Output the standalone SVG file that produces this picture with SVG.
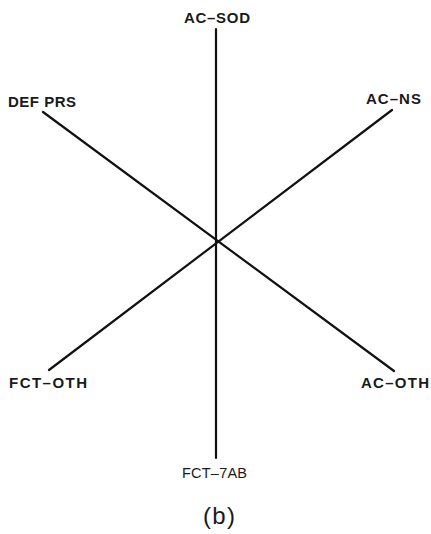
<svg xmlns="http://www.w3.org/2000/svg" width="431" height="534" viewBox="0 0 431 534">
<style>
.ln{stroke:#111;stroke-width:2.2;fill:none;stroke-linecap:round}
.lb{font-family:"Liberation Sans",Arial,sans-serif;font-weight:bold;font-size:15px;fill:#1a1a1a}
.lr{font-family:"Liberation Sans",Arial,sans-serif;font-size:14.5px;fill:#1a1a1a}
.cap{font-family:"Liberation Sans",Arial,sans-serif;font-size:24px;fill:#1a1a1a}
</style>
<rect width="431" height="534" fill="#fff"/>
<g id="connectors">
<line class="ln" x1="216" y1="29" x2="216" y2="458"/>
<line class="ln" x1="43" y1="112" x2="394" y2="371"/>
<line class="ln" x1="392" y1="110" x2="49" y2="370"/>
</g>
<g id="ac-sod"><text class="lb" x="184" y="23" textLength="66" lengthAdjust="spacing">AC–SOD</text></g>
<g id="def-prs"><text class="lb" x="8" y="107" textLength="68" lengthAdjust="spacing">DEF PRS</text></g>
<g id="ac-ns"><text class="lb" x="366" y="104" textLength="55" lengthAdjust="spacing">AC–NS</text></g>
<g id="fct-oth"><text class="lb" x="9" y="388" textLength="78" lengthAdjust="spacing">FCT–OTH</text></g>
<g id="ac-oth"><text class="lb" x="361" y="388" textLength="68" lengthAdjust="spacing">AC–OTH</text></g>
<g id="fct-7ab"><text class="lr" x="182" y="478" textLength="65" lengthAdjust="spacing">FCT–7AB</text></g>
<g id="caption"><text class="cap" x="203" y="524" textLength="32" lengthAdjust="spacing">(b)</text></g>
</svg>
